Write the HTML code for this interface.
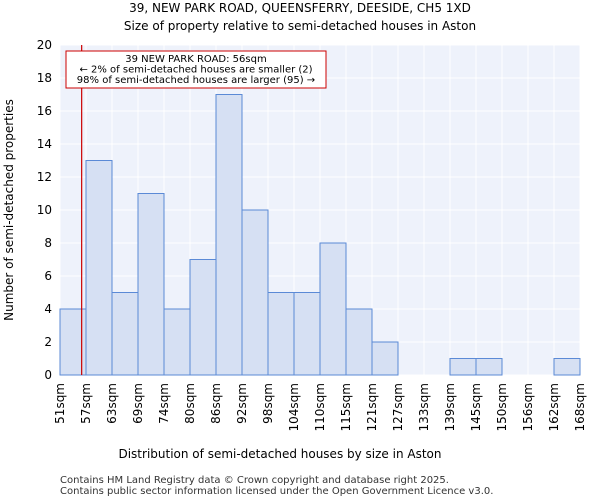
<!DOCTYPE html>
<html><head><meta charset="utf-8"><style>
body{margin:0;background:#fff;font-family:"DejaVu Sans","Liberation Sans",sans-serif;}
</style></head><body>
<svg width="600" height="500" font-family="DejaVu Sans, Liberation Sans, sans-serif">
<text x="300" y="12" text-anchor="middle" font-size="12">39, NEW PARK ROAD, QUEENSFERRY, DEESIDE, CH5 1XD</text>
<text x="300" y="30" text-anchor="middle" font-size="12">Size of property relative to semi-detached houses in Aston</text>
<rect x="60" y="45" width="520" height="330" fill="#eef2fb"/>
<g id="grid"></g><g id="bars"></g><g id="axes"></g>
<line id="marker" y1="45" y2="375" stroke="#cc0000" stroke-width="1.2"/>
<rect x="66" y="51" width="260" height="37" fill="#fff" stroke="#cc0000"/>
<text x="196" y="62" text-anchor="middle" font-size="10">39 NEW PARK ROAD: 56sqm</text>
<text x="196" y="72.5" text-anchor="middle" font-size="10">← 2% of semi-detached houses are smaller (2)</text>
<text x="196" y="83" text-anchor="middle" font-size="10">98% of semi-detached houses are larger (95) →</text>
<text x="280" y="458" text-anchor="middle" font-size="12">Distribution of semi-detached houses by size in Aston</text>
<text transform="translate(13,210) rotate(-90)" text-anchor="middle" font-size="12">Number of semi-detached properties</text>
<text x="60" y="483" font-size="10" fill="#333">Contains HM Land Registry data © Crown copyright and database right 2025.</text>
<text x="60" y="494" font-size="10" fill="#333">Contains public sector information licensed under the Open Government Licence v3.0.</text>
</svg>
<script>
const categories=["51sqm","57sqm","63sqm","69sqm","74sqm","80sqm","86sqm","92sqm","98sqm","104sqm","110sqm","115sqm","121sqm","127sqm","133sqm","139sqm","145sqm","150sqm","156sqm","162sqm","168sqm"];
const counts=[4,13,5,11,4,7,17,10,5,5,8,4,2,0,0,1,1,0,0,1];
const yTicks=[0,2,4,6,8,10,12,14,16,18,20];
const markerBin=0;const markerFrac=5/6;
const NS="http://www.w3.org/2000/svg";
const x0=60,x1=580,y0=375,y1=45,yMax=20;
const bw=(x1-x0)/counts.length;
const xs=i=>x0+i*bw;
const ys=v=>y0-(v/yMax)*(y0-y1);
function mk(t,a,p){const e=document.createElementNS(NS,t);for(const k in a)e.setAttribute(k,a[k]);p.appendChild(e);return e;}
const grid=document.getElementById('grid'),bars=document.getElementById('bars'),axes=document.getElementById('axes');
yTicks.forEach(v=>{
 const g=mk('line',{x1:x0,x2:x1,y1:ys(v),y2:ys(v),stroke:'#fff','stroke-width':1},grid);
 
 
 const t=mk('text',{x:x0-8,y:ys(v)+4,'text-anchor':'end','font-size':12},axes);t.textContent=v;
 
 
});
categories.forEach((c,i)=>{
 const g=mk('line',{x1:xs(i),x2:xs(i),y1:y1,y2:y0,stroke:'#fff','stroke-width':1},grid);
 
 
 const t=mk('text',{transform:`translate(${xs(i)+4},${y0+8}) rotate(-90)`,'text-anchor':'end','font-size':12},axes);t.textContent=c;
 
 
});
counts.forEach((v,i)=>{
 if(v<=0)return;
 const r=mk('rect',{x:xs(i),y:ys(v),width:bw,height:ys(0)-ys(v),fill:'#d6e0f3',stroke:'#5b8ad6','stroke-width':1},bars);
 
 
});
const mx=xs(markerBin)+bw*markerFrac;
const m=document.getElementById('marker');m.setAttribute('x1',mx);m.setAttribute('x2',mx);
</script>
</body></html>
